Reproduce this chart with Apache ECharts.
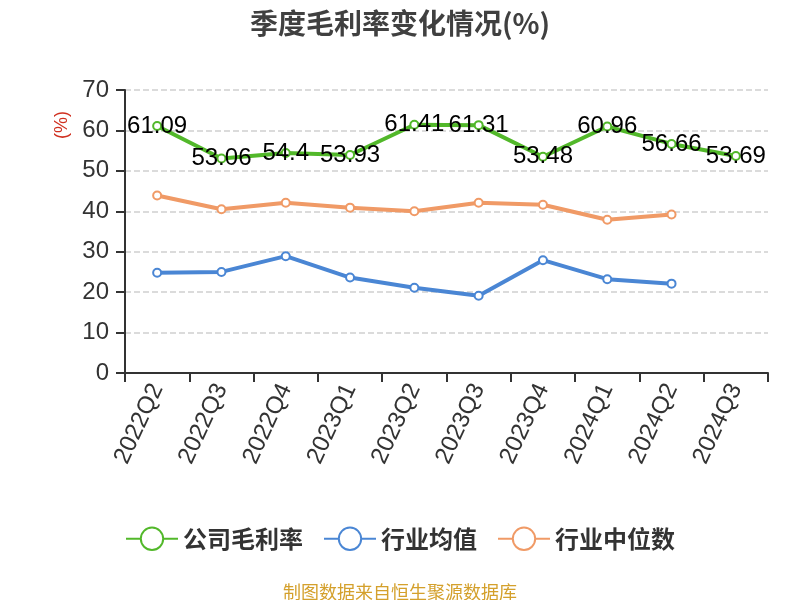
<!DOCTYPE html>
<html>
<head>
<meta charset="utf-8">
<script src="https://cdn.jsdelivr.net/npm/echarts@6/dist/echarts.min.js"></script>
<style>html,body{margin:0;padding:0;background:#fff}#c{width:800px;height:600px}</style>
</head>
<body>
<div id="c"></div>
<script>
var categories = ['2022Q2','2022Q3','2022Q4','2023Q1','2023Q2','2023Q3','2023Q4','2024Q1','2024Q2','2024Q3'];
var companyMargin = [61.09, 53.06, 54.4, 53.93, 61.41, 61.31, 53.48, 60.96, 56.66, 53.69];
var industryAvg = [24.8, 25.0, 28.9, 23.6, 21.1, 19.1, 27.9, 23.2, 22.1, null];
var industryMedian = [43.9, 40.5, 42.1, 40.9, 40.0, 42.1, 41.6, 37.9, 39.2, null];
var yTicks = [0, 10, 20, 30, 40, 50, 60, 70];

var FONT = 'Liberation Sans, Arial, Noto Sans CJK SC, sans-serif';
var chart = echarts.init(document.getElementById('c'));
chart.setOption({
  backgroundColor: '#ffffff',
  animation: false,
  title: [{
    text: '季度毛利率变化情况(%)',
    left: 'center', top: 4,
    textStyle: { fontSize: 28, fontWeight: 'bold', color: '#404040', fontFamily: 'Noto Sans CJK SC, sans-serif' }
  }, {
    text: '制图数据来自恒生聚源数据库',
    left: 'center', top: 578,
    textStyle: { fontSize: 18, fontWeight: 'normal', color: '#d4a02c', fontFamily: 'Noto Sans CJK SC, sans-serif' }
  }],
  graphic: [{
    type: 'text', x: 62, y: 125, rotation: Math.PI / 2,
    style: { text: '(%)', fill: '#d03020', font: '18px Liberation Sans, Arial, sans-serif', align: 'center', verticalAlign: 'middle' }
  }],
  legend: {
    bottom: 44, left: 'center',
    itemWidth: 52, itemHeight: 28, itemGap: 20,
    textStyle: { fontSize: 24, color: '#333', fontWeight: 'bold', fontFamily: 'Noto Sans CJK SC, sans-serif' },
    data: ['公司毛利率', '行业均值', '行业中位数']
  },
  grid: { left: 125, right: 32, top: 90, bottom: 227 },
  xAxis: {
    type: 'category', data: categories, boundaryGap: true,
    axisLine: { lineStyle: { color: '#333', width: 2 } },
    axisTick: { show: true, length: 9, lineStyle: { color: '#333', width: 2 } },
    axisLabel: { rotate: 65, fontSize: 24, color: '#333', margin: 12, fontFamily: FONT, interval: 0 }
  },
  yAxis: {
    type: 'value', min: yTicks[0], max: yTicks[yTicks.length - 1], interval: 10,
    axisLine: { show: true, lineStyle: { color: '#333', width: 2 } },
    axisTick: { show: true, length: 9, lineStyle: { color: '#333', width: 2 } },
    axisLabel: { fontSize: 24, color: '#333', margin: 16, fontFamily: FONT },
    splitLine: { show: true, lineStyle: { color: '#d0d0d0', type: 'dashed', width: 1.5 } }
  },
  series: [{
    name: '公司毛利率', type: 'line', data: companyMargin,
    symbol: 'emptyCircle', symbolSize: 8,
    lineStyle: { width: 4, color: '#52b82a' },
    itemStyle: { color: '#52b82a', borderWidth: 2 },
    label: { show: true, position: 'inside', fontSize: 24, color: '#000', fontFamily: FONT },
    z: 3
  }, {
    name: '行业均值', type: 'line', data: industryAvg,
    symbol: 'emptyCircle', symbolSize: 8,
    lineStyle: { width: 4, color: '#4a86d4' },
    itemStyle: { color: '#4a86d4', borderWidth: 2 }
  }, {
    name: '行业中位数', type: 'line', data: industryMedian,
    symbol: 'emptyCircle', symbolSize: 8,
    lineStyle: { width: 4, color: '#f09a66' },
    itemStyle: { color: '#f09a66', borderWidth: 2 }
  }]
});
</script>
</body>
</html>
